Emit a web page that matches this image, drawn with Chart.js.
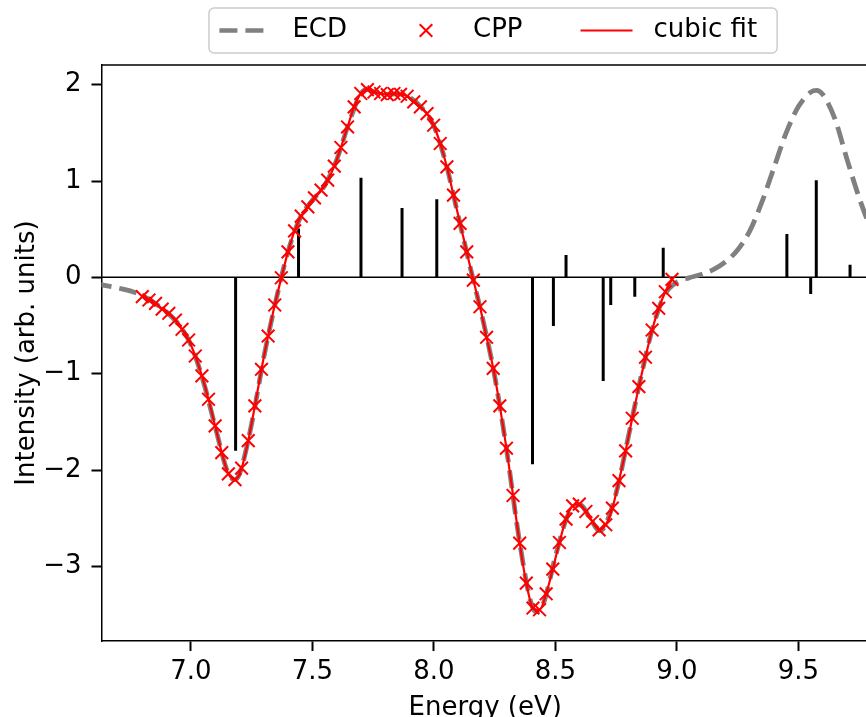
<!DOCTYPE html>
<html>
<head>
<meta charset="utf-8">
<script src="https://cdn.jsdelivr.net/npm/chart.js@4.4.0/dist/chart.umd.min.js"></script>
<style>
html, body { margin: 0; padding: 0; background: #fff; overflow: hidden; }
#js--chart { position: absolute; left: 0; top: 0; }
</style>
</head>
<body>
<canvas id="js--chart" width="880" height="740" style="width:880px;height:740px"></canvas>
<script>
// CPP points, energies in eV
const cppE = [6.8, 6.82725, 6.8545, 6.88175, 6.909, 6.93625, 6.9635, 6.99075, 7.018, 7.04525,
  7.0725, 7.09975, 7.127, 7.15425, 7.1815, 7.20875, 7.236, 7.26325, 7.2905, 7.31775,
  7.345, 7.37225, 7.3995, 7.42675, 7.454, 7.48125, 7.5085, 7.53575, 7.563, 7.59025,
  7.6175, 7.64475, 7.672, 7.69925, 7.7265, 7.75375, 7.781, 7.80825, 7.8355, 7.86275,
  7.89, 7.91725, 7.9445, 7.97175, 7.999, 8.02625, 8.0535, 8.08075, 8.108, 8.13525,
  8.1625, 8.18975, 8.217, 8.24425, 8.2715, 8.29875, 8.326, 8.35325, 8.3805, 8.40775,
  8.435, 8.46225, 8.4895, 8.51675, 8.544, 8.57125, 8.5985, 8.62575, 8.653, 8.68025,
  8.7075, 8.73475, 8.762, 8.78925, 8.8165, 8.84375, 8.871, 8.89825, 8.9255, 8.95275, 8.98];
const cppY = [-0.20, -0.235, -0.27, -0.33, -0.373, -0.443, -0.539, -0.65, -0.816, -1.023,
  -1.265, -1.542, -1.819, -2.039, -2.10, -1.98, -1.694, -1.334, -0.954, -0.609,
  -0.287, -0.004, 0.265, 0.483, 0.636, 0.732, 0.825, 0.905, 1.009, 1.154,
  1.348, 1.561, 1.769, 1.908, 1.949, 1.924, 1.908, 1.897, 1.908, 1.90,
  1.88, 1.821, 1.77, 1.70, 1.579, 1.389, 1.147, 0.853, 0.56, 0.265,
  -0.028, -0.305, -0.622, -0.944, -1.334, -1.773, -2.264, -2.758, -3.173, -3.432,
  -3.45, -3.284, -3.028, -2.752, -2.509, -2.371, -2.354, -2.43, -2.534, -2.62,
  -2.568, -2.395, -2.109, -1.801, -1.462, -1.134, -0.829, -0.546, -0.321, -0.149, -0.021];

// ECD curve
const ecdE = [6.60, 6.65, 6.70, 6.75, 6.80, 6.85, 6.90, 6.95, 7.00, 7.05, 7.10, 7.15, 7.18, 7.20,
  7.25, 7.30, 7.35, 7.40, 7.45, 7.50, 7.55, 7.60, 7.65, 7.70, 7.73, 7.75, 7.80, 7.85, 7.90,
  7.95, 8.00, 8.05, 8.10, 8.15, 8.20, 8.25, 8.30, 8.35, 8.40, 8.42, 8.45, 8.50, 8.55, 8.60,
  8.65, 8.68, 8.70, 8.75, 8.80, 8.85, 8.90, 8.95, 9.00, 9.05, 9.10, 9.15, 9.20, 9.25, 9.30,
  9.35, 9.40, 9.45, 9.50, 9.55, 9.575, 9.60, 9.65, 9.70, 9.75, 9.80, 9.85];
const ecdY = [-0.065, -0.085, -0.11, -0.14, -0.19, -0.265, -0.36, -0.49, -0.70, -1.07, -1.55, -2.01, -2.10, -2.04,
  -1.52, -0.83, -0.24, 0.27, 0.62, 0.80, 0.95, 1.22, 1.60, 1.91, 1.95, 1.93, 1.90, 1.905, 1.87,
  1.76, 1.57, 1.18, 0.64, 0.10, -0.42, -1.02, -1.80, -2.70, -3.38, -3.47, -3.39, -2.90, -2.48, -2.36,
  -2.53, -2.63, -2.60, -2.24, -1.66, -1.06, -0.53, -0.18, -0.05, -0.005, 0.03, 0.08, 0.16, 0.285, 0.48,
  0.78, 1.14, 1.50, 1.77, 1.92, 1.94, 1.90, 1.65, 1.23, 0.83, 0.50, 0.28];

// stick spectrum
const stickE = [7.184, 7.443, 7.700, 7.869, 8.012, 8.406, 8.492, 8.544, 8.697, 8.728, 8.827, 8.944,
  9.453, 9.551, 9.574, 9.713];
const stickY = [-1.80, 0.508, 1.033, 0.72, 0.81, -1.94, -0.505, 0.231, -1.075, -0.287, -0.20, 0.307,
  0.449, -0.173, 1.009, 0.131];

const xTicks = [7.0, 7.5, 8.0, 8.5, 9.0, 9.5];
const yTicks = [-3, -2, -1, 0, 1, 2];
const legendLabels = ['ECD', 'CPP', 'cubic fit'];

const xMin = 6.632, xMax = 9.791;
const yMin = -3.774, yMax = 2.204;

const ctx = document.getElementById('js--chart');
Chart.defaults.font.family = '"DejaVu Sans"';
Chart.defaults.font.size = 26;
Chart.defaults.color = '#000';

const cppPts = cppE.map((e, i) => ({x: e, y: cppY[i]}));
const ecdPts = ecdE.map((e, i) => ({x: e, y: ecdY[i]}));
let stickPts = [];
stickE.forEach((e, i) => {
    stickPts.push({x: e, y: 0}, {x: e, y: stickY[i]}, {x: e, y: null});
});
const zeroPts = [{x: xMin, y: 0}, {x: xMax, y: 0}];

const mplLegend = {
    id: 'mplLegend',
    afterDraw(chart) {
        const c = chart.ctx, a = chart.chartArea;
        const handle = 52, pad = 21, gaps = [0, 53, 58], bpad = 10.4;
        c.save();
        c.font = '26px "DejaVu Sans"';
        let w = bpad + 20;
        legendLabels.forEach((t, i) => {
            w += handle + pad + c.measureText(t).width + gaps[i];
        });
        const top = 8, h = 45;
        const x0 = 209;
        // top spine
        c.strokeStyle = '#000';
        c.lineWidth = 1.5;
        c.beginPath();
        c.moveTo(a.left, a.top);
        c.lineTo(a.right, a.top);
        c.lineTo(a.right, a.bottom);
        c.stroke();
        // legend box
        c.beginPath();
        c.roundRect(x0, top, w, h, 5);
        c.fillStyle = 'rgba(255,255,255,0.8)';
        c.fill();
        c.strokeStyle = '#cccccc';
        c.lineWidth = 1.5;
        c.stroke();
        const cy = top + h / 2;
        let x = x0 + bpad;
        legendLabels.forEach((t, i) => {
            x += gaps[i];
            if (i == 0) {
                c.strokeStyle = '#808080';
                c.lineWidth = 4.5;
                c.setLineDash([18, 8]);
                c.beginPath();
                c.moveTo(x, cy); c.lineTo(x + handle, cy);
                c.stroke();
                c.setLineDash([]);
            } else if (i == 1) {
                const m = 6.3, mx = x + handle / 2;
                c.strokeStyle = '#ff0000';
                c.lineWidth = 2;
                c.beginPath();
                c.moveTo(mx - m, cy - m); c.lineTo(mx + m, cy + m);
                c.moveTo(mx - m, cy + m); c.lineTo(mx + m, cy - m);
                c.stroke();
            } else {
                c.strokeStyle = '#ff0000';
                c.lineWidth = 2;
                c.beginPath();
                c.moveTo(x, cy); c.lineTo(x + handle, cy);
                c.stroke();
            }
            x += handle + pad;
            c.fillStyle = '#000';
            c.textBaseline = 'middle';
            c.textAlign = 'left';
            c.fillText(t, x, cy);
            x += c.measureText(t).width;
        });
        c.restore();
    }
};

new Chart(ctx, {
    type: 'line',
    data: {
        datasets: [
            {label: 'cubic fit', data: cppPts, borderColor: '#ff0000', borderWidth: 2.2,
                pointRadius: 0, cubicInterpolationMode: 'monotone'},
            {label: 'CPP', data: cppPts, showLine: false, pointStyle: 'crossRot', pointRadius: 9,
                pointBorderColor: '#ff0000', pointBorderWidth: 2, borderColor: '#ff0000'},
            {label: 'ECD', data: ecdPts, borderColor: '#808080', borderWidth: 4.8, borderDash: [18, 8],
                borderCapStyle: 'butt', pointRadius: 0, cubicInterpolationMode: 'monotone'},
            {label: 'sticks', data: stickPts, borderColor: '#000', borderWidth: 3, pointRadius: 0,
                spanGaps: false, borderCapStyle: 'butt'},
            {label: 'zero', data: zeroPts, borderColor: '#000', borderWidth: 1.5, pointRadius: 0}
        ]
    },
    options: {
        responsive: false,
        animation: false,
        events: [],
        layout: {padding: {top: 65, right: 5.5, left: 0, bottom: 0}},
        plugins: {legend: {display: false}, tooltip: {enabled: false}},
        scales: {
            x: {
                type: 'linear', min: xMin, max: xMax,
                afterBuildTicks: s => { s.ticks = xTicks.map(v => ({value: v})); },
                afterFit: s => { s.height = 99; },
                ticks: {padding: 6, callback: v => v.toFixed(1)},
                grid: {drawOnChartArea: false, drawTicks: true, tickLength: 10, tickWidth: 2, tickColor: '#000'},
                border: {display: true, color: '#000', width: 1.5},
                title: {display: true, text: 'Energy (eV)', padding: {top: 0, bottom: 16}}
            },
            y: {
                type: 'linear', min: yMin, max: yMax,
                afterBuildTicks: s => { s.ticks = yTicks.map(v => ({value: v})); },
                afterFit: s => { s.width = 101.5; },
                ticks: {padding: 10, callback: v => v < 0 ? '\u2212' + Math.abs(v) : String(v)},
                grid: {drawOnChartArea: false, drawTicks: true, tickLength: 10, tickWidth: 2, tickColor: '#000'},
                border: {display: true, color: '#000', width: 1.5},
                title: {display: true, text: 'Intensity (arb. units)', padding: {top: 12, bottom: 0}}
            }
        }
    },
    plugins: [mplLegend]
});
</script>
</body>
</html>
